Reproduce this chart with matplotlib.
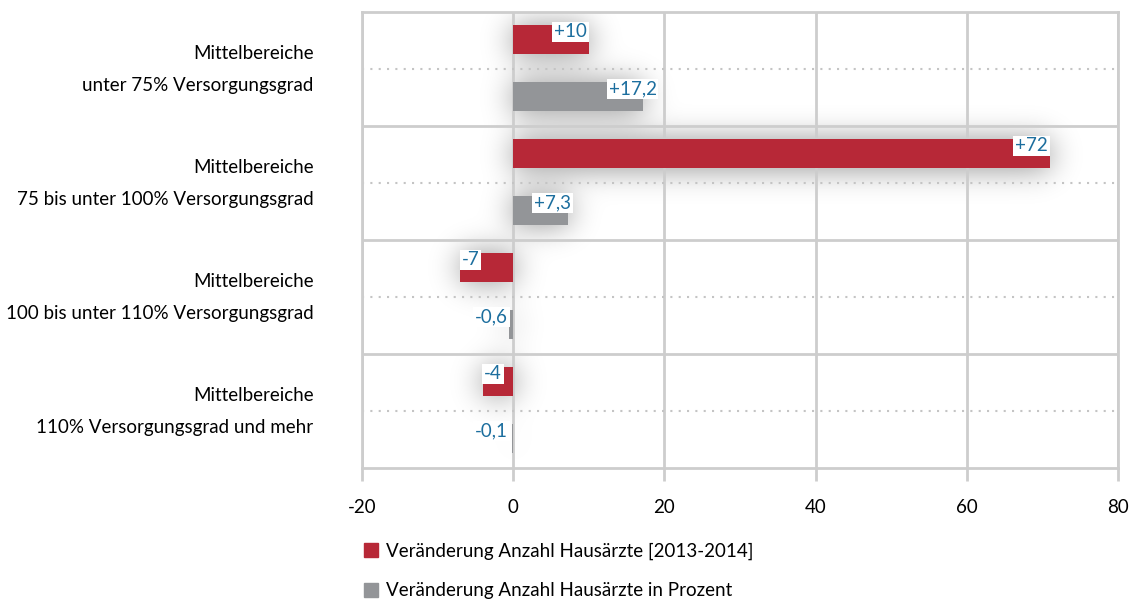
import numpy as np
import matplotlib
matplotlib.use("Agg")
import matplotlib.pyplot as plt
from matplotlib.patches import Patch

plt.rcParams['font.family'] = ['Lato', 'DejaVu Sans']
plt.rcParams['axes.unicode_minus'] = False

categories = [
    "Mittelbereiche\n\nunter 75% Versorgungsgrad",
    "Mittelbereiche\n\n75 bis unter 100% Versorgungsgrad",
    "Mittelbereiche\n\n100 bis unter 110% Versorgungsgrad",
    "Mittelbereiche\n\n110% Versorgungsgrad und mehr",
]
anzahl = [10, 71, -7, -4]
prozent = [17.2, 7.3, -0.6, -0.1]
anzahl_labels = ["+10", "+72", "-7", "-4"]
prozent_labels = ["+17,2", "+7,3", "-0,6", "-0,1"]
series_names = ["Veränderung Anzahl Hausärzte [2013-2014]",
                "Veränderung Anzahl Hausärzte in Prozent"]

RED = "#b72837"
GRAY = "#939598"
BLUE = "#1c6e9e"
GRID = "#cdcdcd"

fig = plt.figure(figsize=(11.38, 6.01), dpi=100)
ax = fig.add_axes([362 / 1138, 1 - 468 / 601, 756 / 1138, 456 / 601])

xmin, xmax, ymin, ymax = -20, 80, 0, 8
n = len(categories)
red_y = np.arange(n) * 2 + 0.49
gray_y = np.arange(n) * 2 + 1.49
h = 0.51

# soft drop shadow behind the bars
ny, nx = 456, 756
xs = np.linspace(xmin, xmax, nx)
ys = np.linspace(ymin, ymax, ny)
X, Y = np.meshgrid(xs, ys)
mask = np.zeros((ny, nx))
for yc, v in list(zip(red_y, anzahl)) + list(zip(gray_y, prozent)):
    lo, hi = min(0, v), max(0, v)
    mask[(X >= lo) & (X <= hi) & (Y >= yc - h / 2) & (Y <= yc + h / 2)] = 1
k = np.arange(-50, 51)
kern = np.exp(-k ** 2 / (2 * 15 ** 2))
kern /= kern.sum()
blur = np.apply_along_axis(lambda r: np.convolve(r, kern, mode="same"), 1, mask)
blur = np.apply_along_axis(lambda c: np.convolve(c, kern, mode="same"), 0, blur)
rgba = np.zeros((ny, nx, 4))
rgba[..., 3] = blur * 0.45
ax.imshow(rgba, extent=(xmin, xmax, ymax, ymin), aspect="auto", zorder=0.5,
          interpolation="bilinear")

ax.barh(red_y, anzahl, height=h, color=RED, zorder=3)
ax.barh(gray_y, prozent, height=h, color=GRAY, zorder=3)

for yc, v, lab in list(zip(red_y, anzahl, anzahl_labels)) + list(zip(gray_y, prozent, prozent_labels)):
    if v > 0:
        ax.annotate(lab, (v, yc - 0.14), xytext=(-25, 0), textcoords="offset points",
                    ha="left", va="center", color=BLUE, fontsize=13.5, zorder=4,
                    bbox=dict(boxstyle="square,pad=0.1", fc="white", ec="none"))
    else:
        ax.annotate(lab, (min(v + 2.5, -0.7), yc - 0.14), ha="right", va="center",
                    color=BLUE, fontsize=13.5, zorder=4,
                    bbox=dict(boxstyle="square,pad=0.1", fc="white", ec="none"))

for yb in [2, 4, 6]:
    ax.axhline(yb, color=GRID, lw=2, zorder=1)
for yd in [1, 3, 5, 7]:
    ax.axhline(yd, color="#c4c4c4", lw=1.5, ls=(0, (1, 3)), zorder=1)

ax.set_xlim(xmin, xmax)
ax.set_ylim(ymax, ymin)
ax.set_xticks([-20, 0, 20, 40, 60, 80])
ax.xaxis.grid(True, color=GRID, lw=2, zorder=1)
ax.set_axisbelow(True)
ax.tick_params(axis="x", length=9, width=2, color=GRID, pad=13, labelsize=13.5)
ax.set_yticks(red_y + 0.5)
ax.set_yticklabels(categories, fontsize=13.5, linespacing=0.95)
ax.tick_params(axis="y", length=0, pad=35)
for s in ax.spines.values():
    s.set_color(GRID)
    s.set_linewidth(2)

handles = [Patch(color=RED), Patch(color=GRAY)]
fig.legend(handles, series_names, loc="upper left", bbox_to_anchor=(355 / 1138, 1 - 533 / 601),
           frameon=False, fontsize=13.5, handlelength=0.75, handleheight=0.75,
           handletextpad=0.4, labelspacing=1.2, borderpad=0)

fig.savefig("out.png", dpi=100)
